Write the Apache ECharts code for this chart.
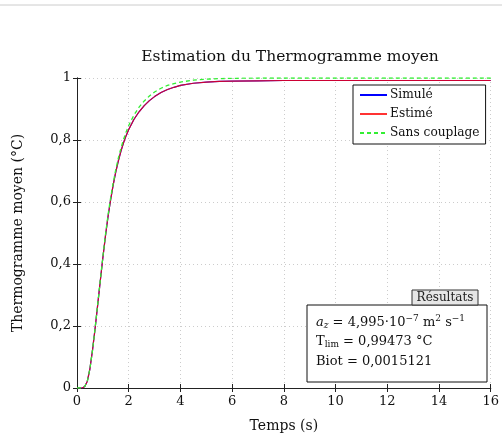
<!DOCTYPE html>
<html><head><meta charset="utf-8">
<script src="https://cdn.jsdelivr.net/npm/echarts@6/dist/echarts.min.js"></script>
<style>html,body{margin:0;padding:0;background:#fff}#c{width:502px;height:438px}</style>
</head><body><div id="c"></div>
<script>
var FONT = 'DejaVu Serif';
var timeValues = [0, 0.2, 0.3, 0.4, 0.5, 0.6, 0.7, 0.8, 0.9, 1.0, 1.1, 1.2, 1.3, 1.4, 1.5, 1.6, 1.7, 1.8, 1.9, 2.0, 2.2, 2.4, 2.6, 2.8, 3.0, 3.25, 3.5, 3.75, 4.0, 4.5, 5, 5.5, 6, 7, 8, 10, 12, 14, 16];
var simValues = [0, 0, 0.005, 0.022, 0.062, 0.122, 0.192, 0.268, 0.345, 0.42, 0.49, 0.553, 0.607, 0.655, 0.697, 0.733, 0.764, 0.791, 0.814, 0.834, 0.866, 0.891, 0.911, 0.927, 0.94, 0.953, 0.963, 0.97, 0.976, 0.983, 0.987, 0.989, 0.990, 0.991, 0.992, 0.992, 0.992, 0.992, 0.992];
var estValues = [0, 0, 0.005, 0.022, 0.062, 0.122, 0.192, 0.268, 0.345, 0.42, 0.49, 0.553, 0.607, 0.655, 0.697, 0.733, 0.764, 0.791, 0.814, 0.834, 0.866, 0.891, 0.911, 0.927, 0.94, 0.953, 0.963, 0.97, 0.976, 0.983, 0.987, 0.989, 0.990, 0.991, 0.992, 0.992, 0.992, 0.992, 0.992];
var noCouplingValues = [0, 0, 0.005, 0.022, 0.062, 0.122, 0.193, 0.27, 0.347, 0.423, 0.494, 0.558, 0.613, 0.662, 0.705, 0.742, 0.774, 0.802, 0.826, 0.847, 0.88, 0.906, 0.926, 0.942, 0.955, 0.967, 0.976, 0.982, 0.987, 0.993, 0.996, 0.998, 0.999, 1.0, 1.0, 1.0, 1.0, 1.0, 1.0];
var xTicks = {min: 0, max: 16, interval: 2};
var yTicks = {min: 0, max: 1, interval: 0.2};
var seriesNames = ['Simulé', 'Estimé', 'Sans couplage'];
var resultLines = ['4,995', '0,99473', '0,0015121'];

function pairs(ys){ return timeValues.map(function(t,i){ return [t, ys[i]]; }); }
function fmt(v){ return String(Math.round(v*10)/10).replace('.', ','); }

var chart = echarts.init(document.getElementById('c'));
var axisCommon = {
  axisLine: {show: true, lineStyle: {color: '#222', width: 1}},
  axisTick: {show: true, inside: true, length: 4, lineStyle: {color: '#222'}},
  splitLine: {show: false}
};
chart.setOption({
  backgroundColor: '#fff',
  animation: false,
  title: {
    text: 'Estimation du Thermogramme moyen', left: 285, top: 44, textAlign: 'center',
    textStyle: {fontFamily: FONT, fontSize: 15.5, fontWeight: 'normal', color: '#111'}
  },
  grid: {left: 77, right: 8, top: 78, bottom: 47},
  legend: {
    orient: 'vertical', left: 353, top: 85, data: seriesNames,
    backgroundColor: '#fff', borderColor: '#111', borderWidth: 1,
    padding: [4, 6, 5, 6], itemGap: 7, itemWidth: 27, itemHeight: 12,
    itemStyle: {opacity: 0},
    textStyle: {fontFamily: FONT, fontSize: 12.2, color: '#111', padding: [0,0,0,-2]}
  },
  xAxis: [
    Object.assign({type: 'value', min: xTicks.min, max: xTicks.max, interval: xTicks.interval, position: 'bottom',
      name: 'Temps (s)', nameLocation: 'middle', nameGap: 31,
      nameTextStyle: {fontFamily: FONT, fontSize: 14, color: '#111'},
      axisLabel: {fontFamily: FONT, fontSize: 13, color: '#111', margin: 7, formatter: function(v){return fmt(v);}},
    }, axisCommon, {splitLine: {show: true, lineStyle: {color: '#ccc', type: [1, 3]}}}),
    Object.assign({type: 'value', min: xTicks.min, max: xTicks.max, interval: xTicks.interval, position: 'top',
      axisLabel: {show: false}}, axisCommon)
  ],
  yAxis: [
    Object.assign({type: 'value', min: yTicks.min, max: yTicks.max, interval: yTicks.interval, position: 'left',
      name: 'Thermogramme moyen (°C)', nameLocation: 'middle', nameGap: 52, nameRotate: 90,
      nameTextStyle: {fontFamily: FONT, fontSize: 14, color: '#111'},
      axisLabel: {fontFamily: FONT, fontSize: 13, color: '#111', margin: 6, formatter: function(v){return fmt(v);}},
    }, axisCommon, {splitLine: {show: true, lineStyle: {color: '#ccc', type: [1, 3]}}}),
    Object.assign({type: 'value', min: yTicks.min, max: yTicks.max, interval: yTicks.interval, position: 'right',
      axisLabel: {show: false}}, axisCommon)
  ],
  series: [
    {name: seriesNames[0], type: 'line', data: pairs(simValues), showSymbol: false, symbol: 'none', smooth: false,
      lineStyle: {color: '#0000ff', width: 1.2}, itemStyle: {color: '#0000ff'}},
    {name: seriesNames[1], type: 'line', data: pairs(estValues), showSymbol: false, symbol: 'none', smooth: false,
      lineStyle: {color: '#ff0000', width: 1.2, opacity: 0.8}, itemStyle: {color: '#ff4040'}},
    {name: seriesNames[2], type: 'line', data: pairs(noCouplingValues), showSymbol: false, symbol: 'none', smooth: false,
      lineStyle: {color: '#33ee33', width: 1.3, type: [4, 3]}, itemStyle: {color: '#33ee33'}}
  ],
  graphic: [
    {type: 'line', shape: {x1: 0, y1: 5, x2: 502, y2: 5}, style: {stroke: '#ccc', lineWidth: 1}, silent: true},
    {type: 'rect', shape: {x: 307, y: 305, width: 180, height: 77}, style: {fill: '#fff', stroke: '#111', lineWidth: 1}, z: 100},
    {type: 'rect', shape: {x: 412, y: 290, width: 66, height: 15}, style: {fill: '#e6e6e6', stroke: '#333', lineWidth: 1}, z: 101},
    {type: 'text', x: 445, y: 298, z: 102, style: {text: 'Résultats', fontFamily: FONT, fontSize: 12, fill: '#222', align: 'center', verticalAlign: 'middle'}},
    {type: 'text', x: 316, y: 323, z: 102, style: {
      text: '{i|a}{sub|z} = ' + resultLines[0] + '·10{sup|−7} m{sup|2} s{sup|−1}',
      fontFamily: FONT, fontSize: 13, fill: '#111', verticalAlign: 'middle',
      rich: {
        i: {fontFamily: FONT, fontStyle: 'italic', fontSize: 13, fill: '#111'},
        sub: {fontFamily: FONT, fontStyle: 'italic', fontSize: 9, fill: '#111', padding: [6,0,0,0]},
        sup: {fontFamily: FONT, fontSize: 9, fill: '#111', padding: [0,0,8,0]}
      }}},
    {type: 'text', x: 316, y: 342, z: 102, style: {
      text: 'T{sub|lim} = ' + resultLines[1] + ' °C',
      fontFamily: FONT, fontSize: 13, fill: '#111', verticalAlign: 'middle',
      rich: {sub: {fontFamily: FONT, fontSize: 9, fill: '#111', padding: [6,0,0,0]}}}},
    {type: 'text', x: 316, y: 362, z: 102, style: {
      text: 'Biot = ' + resultLines[2], fontFamily: FONT, fontSize: 13, fill: '#111', verticalAlign: 'middle'}}
  ]
});
</script></body></html>
